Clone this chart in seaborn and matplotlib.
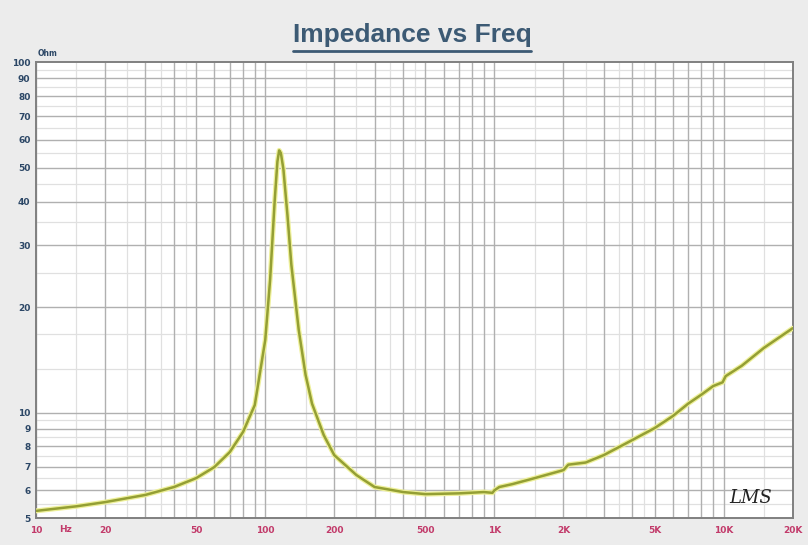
import matplotlib
matplotlib.use("Agg")
import matplotlib.pyplot as plt
from matplotlib.lines import Line2D
import seaborn as sns
import pandas as pd

# impedance curve (Hz, Ohm)
freq = [10, 15, 20, 30, 40, 50, 60, 70, 80, 90, 100, 105, 110, 113, 115, 117,
        120, 125, 130, 140, 150, 160, 180, 200, 250, 300, 400, 500, 700, 900,
        980, 1000, 1050, 1200, 1500, 2000, 2100, 2500, 3000, 4000, 5000, 6000,
        7000, 8000, 9000, 9900, 10200, 12000, 15000, 20000]
imp = [5.24, 5.4, 5.55, 5.82, 6.13, 6.5, 6.99, 7.71, 8.8, 10.5, 16.1, 23.9,
       40.4, 52.0, 56.0, 55.0, 49.5, 36.6, 26.4, 17.2, 12.8, 10.6, 8.62, 7.56,
       6.63, 6.13, 5.93, 5.85, 5.88, 5.93, 5.9, 6.0, 6.13, 6.25, 6.5, 6.85,
       7.1, 7.2, 7.56, 8.35, 9.03, 9.77, 10.6, 11.25, 11.9, 12.2, 12.7, 13.6,
       15.3, 17.4]

x_ticks = [10, 20, 50, 100, 200, 500, 1000, 2000, 5000, 10000, 20000]
x_labels = ["10", "20", "50", "100", "200", "500", "1K", "2K", "5K", "10K", "20K"]
y_ticks = [5, 6, 7, 8, 9, 10, 20, 30, 40, 50, 60, 70, 80, 90, 100]
y_labels = [str(v) for v in y_ticks]

df = pd.DataFrame({"freq": freq, "imp": imp})

sns.set_style("white")
fig = plt.figure(figsize=(8.08, 5.45), dpi=100, facecolor="#ececec")
ax = fig.add_axes([0.0446, 0.0495, 0.9364, 0.8365])
ax.set_facecolor("white")

ax.set_xscale("log")
ax.set_yscale("log")
ax.set_xlim(10, 20000)
ax.set_ylim(5, 100)

# grid: every integer multiple, plus lighter half steps
x_grid = [m * 10 ** d for d in range(1, 5) for m in range(1, 10)]
x_half = [m * 10 ** d for d in range(1, 5) for m in (1.5, 2.5, 3.5, 4.5)]
y_grid = [5, 6, 7, 8, 9, 10, 20, 30, 40, 50, 60, 70, 80, 90]
y_half = [5.5, 6.5, 7.5, 8.5, 9.5, 13.3, 16.7, 25, 35, 45, 55, 65, 75, 85, 95]
for v in x_half:
    ax.axvline(v, color="#e0e0e0", lw=0.9, zorder=0)
for v in y_half:
    ax.axhline(v, color="#e0e0e0", lw=0.9, zorder=0)
for v in x_grid:
    ax.axvline(v, color="#b0b0b0", lw=1.0, zorder=0.5)
for v in y_grid:
    ax.axhline(v, color="#b0b0b0", lw=1.0, zorder=0.5)

# curve: yellow glow under olive line
sns.lineplot(data=df, x="freq", y="imp", ax=ax, color="#eef09a", lw=3.6, zorder=3)
sns.lineplot(data=df, x="freq", y="imp", ax=ax, color="#949f34", lw=1.8, zorder=4)

ax.set_xticks(x_ticks)
ax.set_xticklabels(x_labels)
ax.set_yticks(y_ticks)
ax.set_yticklabels(y_labels)
ax.minorticks_off()
ax.tick_params(axis="x", length=0, pad=6, labelsize=6.5, labelcolor="#c23a6a")
ax.tick_params(axis="y", length=0, pad=4, labelsize=6.5, labelcolor="#2c4766")
for lab in ax.get_xticklabels() + ax.get_yticklabels():
    lab.set_fontweight("bold")
ax.set_xlabel("")
ax.set_ylabel("")

for side in ["left", "bottom", "top", "right"]:
    ax.spines[side].set_color("#808080")
    ax.spines[side].set_linewidth(1.4)

ax.text(13.5, -0.0155, "Hz", transform=ax.get_xaxis_transform(),
        fontsize=6.5, fontweight="bold", color="#c23a6a", ha="center", va="top")
fig.text(0.047, 0.898, "Ohm", fontsize=5.5, fontweight="bold", color="#2c4766")
ax.text(0.945, 0.045, "LMS", transform=ax.transAxes, fontsize=13, style="italic",
        family="DejaVu Serif", color="#222222", ha="center", va="center")

title = fig.text(0.51, 0.935, "Impedance vs Freq", fontsize=19, fontweight="bold",
                 family="Liberation Sans", color="#3c5a74", ha="center", va="center")
fig.canvas.draw()
bb = title.get_window_extent().transformed(fig.transFigure.inverted())
fig.add_artist(Line2D([bb.x0, bb.x1], [bb.y0 - 0.006, bb.y0 - 0.006],
                      transform=fig.transFigure, color="#3c5a74", lw=2.0))

fig.savefig("out.png", dpi=100, facecolor=fig.get_facecolor())
